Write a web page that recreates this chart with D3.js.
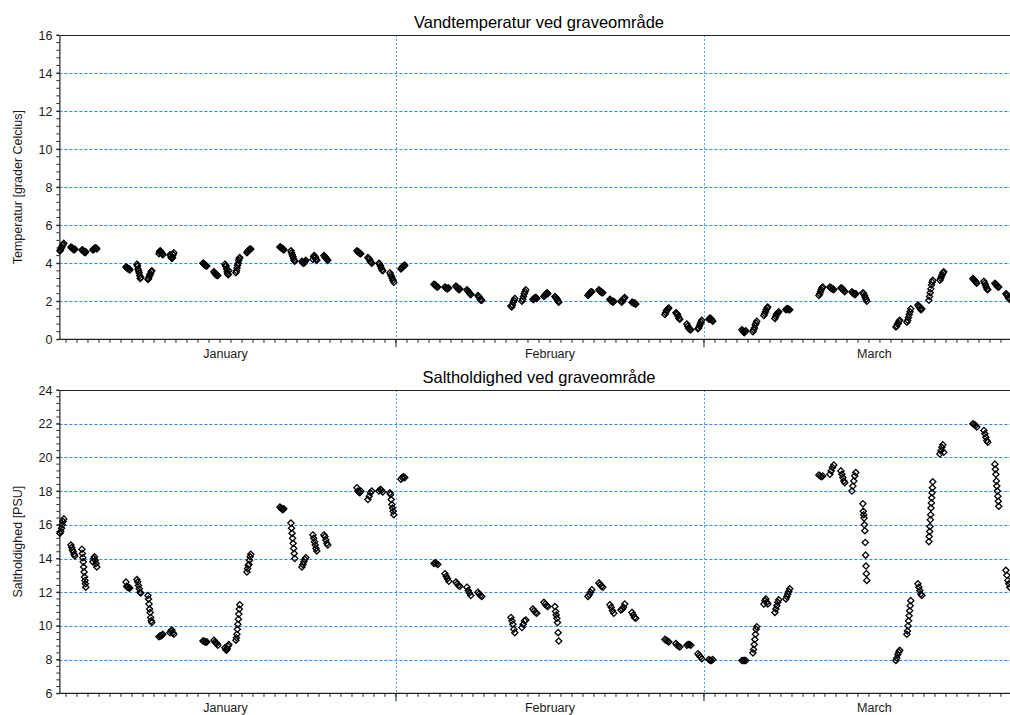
<!DOCTYPE html>
<html>
<head>
<meta charset="utf-8">
<script src="https://cdn.jsdelivr.net/npm/d3@7"></script>
<style>
  html, body { margin: 0; padding: 0; background: #fff; }
  svg { display: block; font-family: "Liberation Sans", Arial, sans-serif; }
</style>
</head>
<body>
<svg id="chart" width="1010" height="715"></svg>
<script>
// ---------- DATA ----------
const year = 2013;
// day offsets from 1 January on which measurements were made
const sampleDays = [0,1,2,3, 6,7,8,9,10, 13,14,15,16,17, 20,21,22,23,24, 27,28,29,30,31,
  34,35,36,37,38, 41,42,43,44,45, 48,49,50,51,52, 55,56,57,58,59,
  62,63,64,65,66, 69,70,71,72,73, 76,77,78,79,80, 83,84,85,86];
// daily sampling window (hours)
const sampleStartHour = 10.8;
const sampleEndHour = 19.2;

// water temperature readings per sampling day [°C]
const temperature = [
  [4.65,4.7,4.8,4.85,4.95,5.0,5.05],
  [4.85,4.8,4.8,4.75,4.75,4.7,4.75],
  [4.7,4.7,4.65,4.6,4.6,4.55,4.6],
  [4.7,4.75,4.75,4.8,4.8,4.8,4.75],
  [3.8,3.8,3.75,3.75,3.7,3.7,3.7,3.65],
  [3.95,3.85,3.7,3.6,3.5,3.35,3.2,3.25],
  [3.15,3.2,3.3,3.4,3.45,3.55,3.6],
  [4.5,4.6,4.65,4.6,4.55,4.5,4.45],
  [4.45,4.4,4.3,4.25,4.3,4.45,4.55],
  [4.0,4.0,3.95,3.9,3.9,3.85,3.85],
  [3.55,3.5,3.45,3.4,3.4,3.35,3.35],
  [3.95,3.85,3.85,3.7,3.55,3.45,3.4,3.6],
  [3.5,3.6,3.75,3.9,4.0,4.15,4.25,4.3],
  [4.55,4.6,4.65,4.7,4.7,4.75,4.75],
  [4.85,4.85,4.8,4.8,4.75,4.75,4.7],
  [4.65,4.55,4.45,4.35,4.25,4.15,4.1],
  [4.1,4.05,4.0,4.0,4.05,4.1,4.15],
  [4.2,4.35,4.4,4.35,4.3,4.2,4.15],
  [4.4,4.35,4.3,4.25,4.2,4.15],
  [4.65,4.6,4.6,4.55,4.5,4.5],
  [4.3,4.25,4.2,4.1,4.05,4.0],
  [4.0,3.95,3.85,3.75,3.65,3.6],
  [3.5,3.4,3.3,3.2,3.1,3.0],
  [3.7,3.75,3.8,3.85,3.85,3.9],
  [2.9,2.85,2.85,2.8,2.75,2.75],
  [2.75,2.7,2.7,2.65,2.7,2.7],
  [2.8,2.75,2.7,2.65,2.6,2.65],
  [2.6,2.55,2.5,2.45,2.4,2.35],
  [2.3,2.25,2.2,2.1,2.05,2.05],
  [1.75,1.7,1.8,1.95,2.05,2.15],
  [2.0,2.1,2.25,2.4,2.5,2.6],
  [2.1,2.1,2.15,2.2,2.2,2.15],
  [2.25,2.3,2.35,2.4,2.45,2.4],
  [2.25,2.2,2.15,2.1,2.0,1.95],
  [2.3,2.35,2.4,2.45,2.5,2.5],
  [2.6,2.55,2.5,2.5,2.45,2.45],
  [2.1,2.05,2.0,2.0,1.95,2.0],
  [2.0,1.95,2.0,2.1,2.15,2.2],
  [1.95,1.95,1.9,1.9,1.9,1.85],
  [1.3,1.4,1.5,1.55,1.6,1.65],
  [1.4,1.35,1.3,1.2,1.1,1.05],
  [0.8,0.7,0.6,0.55,0.5,0.5],
  [0.55,0.6,0.7,0.8,0.9,1.0],
  [1.05,1.1,1.1,1.05,1.0,0.95],
  [0.5,0.45,0.4,0.35,0.4,0.45],
  [0.4,0.5,0.6,0.75,0.85,0.95],
  [1.25,1.35,1.45,1.55,1.65,1.7],
  [1.1,1.2,1.3,1.35,1.4,1.45],
  [1.55,1.6,1.6,1.6,1.55,1.55],
  [2.3,2.4,2.5,2.6,2.7,2.75],
  [2.75,2.7,2.7,2.65,2.65,2.6],
  [2.7,2.7,2.65,2.6,2.55,2.5],
  [2.5,2.45,2.4,2.4,2.35,2.4],
  [2.45,2.4,2.3,2.2,2.1,2.0],
  [0.65,0.7,0.8,0.85,0.95,1.0],
  [0.9,1.0,1.15,1.3,1.45,1.6],
  [1.8,1.75,1.7,1.6,1.55,1.6],
  [2.05,2.25,2.45,2.65,2.85,3.0,3.1],
  [3.1,3.2,3.3,3.4,3.5,3.55],
  [3.2,3.15,3.1,3.05,3.0,2.95],
  [3.05,2.95,2.85,2.75,2.65,2.6],
  [2.95,2.9,2.85,2.8,2.75,2.75],
  [2.4,2.35,2.3,2.2,2.15,2.1]
];

// salinity readings per sampling day [PSU]
const salinity = [
  [15.5,15.6,15.8,16.0,16.2,16.35],
  [14.8,14.65,14.5,14.4,14.25,14.15],
  [14.55,14.3,14.05,13.8,13.5,13.2,12.9,12.7,12.5,12.3],
  [13.8,14.0,14.1,13.9,13.7,13.5],
  [12.6,12.35,12.3,12.3,12.25,12.25],
  [12.75,12.6,12.4,12.2,12.0,11.95],
  [11.8,11.6,11.3,11.0,10.8,10.5,10.3,10.2],
  [9.35,9.4,9.4,9.45,9.5],
  [9.6,9.7,9.75,9.6,9.5],
  [9.1,9.1,9.05,9.05,9.05],
  [9.15,9.05,9.0,8.95,8.85],
  [8.7,8.6,8.55,8.65,8.8,8.9],
  [9.15,9.3,9.5,9.8,10.1,10.4,10.7,11.0,11.25],
  [13.2,13.4,13.6,13.65,13.9,14.1,14.25],
  [17.05,17.0,16.95,16.9,16.95],
  [16.1,15.8,15.5,15.2,14.9,14.6,14.3,14.0],
  [13.5,13.65,13.8,13.95,14.05],
  [15.4,15.2,15.0,14.8,14.6,14.45],
  [15.4,15.3,15.1,14.9,14.8],
  [18.2,18.0,17.95,17.9,18.0],
  [17.5,17.7,17.9,18.0],
  [18.0,18.1,18.05,17.95],
  [17.9,17.8,17.5,17.2,17.0,16.8,16.6],
  [18.7,18.8,18.85,18.8],
  [13.7,13.75,13.7,13.65],
  [13.1,12.95,12.8,12.65],
  [12.6,12.5,12.4,12.35],
  [12.3,12.1,11.95,11.8],
  [12.0,11.9,11.8,11.75],
  [10.5,10.3,10.1,9.8,9.6],
  [9.9,10.1,10.3,10.35],
  [11.0,10.9,10.8,10.75],
  [11.4,11.3,11.2,11.15],
  [11.15,10.85,10.65,10.45,10.2,9.6,9.1],
  [11.75,11.85,12.0,12.15],
  [12.55,12.45,12.35,12.3],
  [11.25,11.1,10.9,10.75],
  [10.95,11.0,11.1,11.3],
  [10.8,10.65,10.5,10.45],
  [9.2,9.15,9.1,9.05],
  [8.95,8.85,8.8,8.75],
  [8.85,8.9,8.9,8.85],
  [8.35,8.25,8.15,8.05],
  [8.0,7.95,7.95,8.0],
  [7.95,7.95,7.95,7.95],
  [8.4,8.6,8.9,9.2,9.5,9.8,9.95],
  [11.3,11.5,11.6,11.4,11.3],
  [10.8,11.0,11.2,11.4,11.55],
  [11.6,11.75,11.9,12.05,12.2],
  [18.95,18.9,18.85,18.9],
  [19.0,19.2,19.4,19.55],
  [19.2,19.0,18.8,18.6,18.5],
  [18.0,18.3,18.6,18.9,19.1],
  [17.25,16.8,16.6,16.4,16.0,15.65,14.95,14.2,13.55,13.1,12.7],
  [7.95,8.1,8.3,8.45,8.55],
  [9.5,9.7,10.0,10.3,10.6,10.9,11.2,11.5],
  [12.5,12.3,12.1,11.9,11.8],
  [15.0,15.3,15.6,15.9,16.3,16.6,17.0,17.3,17.6,17.9,18.2,18.55],
  [20.2,20.4,20.6,20.75,20.3],
  [22.0,21.95,21.9,21.8],
  [21.6,21.4,21.2,21.0,20.9],
  [19.6,19.3,19.0,18.6,18.3,18.0,17.7,17.4,17.1],
  [13.3,13.0,12.7,12.5,12.3]
];

const monthLabels = ["January", "February", "March"];
const tempTicks = [0,2,4,6,8,10,12,14,16];
const salTicks = [6,8,10,12,14,16,18,20,22,24];
const titles = ["Vandtemperatur ved graveområde", "Saltholdighed ved graveområde"];
const yTitles = ["Temperatur [grader Celcius]", "Saltholdighed [PSU]"];

// ---------- HELPERS ----------
const dayMs = 86400000;
const base = Date.UTC(year, 0, 1);
const toDate = t => new Date(base + t * dayMs);

function points(values) {
  const pts = [];
  values.forEach((arr, k) => {
    const n = arr.length;
    arr.forEach((v, i) => {
      const h = sampleStartHour + (n > 1 ? i / (n - 1) : 0) * (sampleEndHour - sampleStartHour);
      pts.push({ date: toDate(sampleDays[k] + h / 24), value: v });
    });
  });
  return pts;
}

const svg = d3.select("#chart");
const left = 59.4, right = 1019;
const x = d3.scaleUtc()
  .domain([toDate(0.4), toDate(87.64)])
  .range([left, right]);

const gridColor = "#1f8cff";
const axisColor = "#222";
const textColor = "#1a1a1a";

function panel(opts) {
  const { top, bottom, yDomain, ticks, data, title, yTitle } = opts;
  const y = d3.scaleLinear().domain(yDomain).range([bottom, top]);
  const g = svg.append("g");

  // horizontal grid
  g.append("g").selectAll("line")
    .data(ticks.filter(t => t !== yDomain[0] && t !== yDomain[1]))
    .join("line")
    .attr("x1", left).attr("x2", 1010)
    .attr("y1", d => Math.round(y(d)) + 0.5).attr("y2", d => Math.round(y(d)) + 0.5)
    .attr("stroke", gridColor).attr("stroke-width", 1)
    .attr("stroke-dasharray", "3,2");

  // vertical month grid
  const monthStarts = d3.utcMonth.range(x.domain()[0], x.domain()[1]);
  g.append("g").selectAll("line")
    .data(monthStarts)
    .join("line")
    .attr("x1", d => Math.round(x(d)) + 0.5).attr("x2", d => Math.round(x(d)) + 0.5)
    .attr("y1", top).attr("y2", bottom)
    .attr("stroke", "#4aa3ff").attr("stroke-width", 1)
    .attr("stroke-dasharray", "2,2");

  // top border
  g.append("line")
    .attr("x1", left).attr("x2", 1010)
    .attr("y1", Math.round(top) + 0.5).attr("y2", Math.round(top) + 0.5)
    .attr("stroke", axisColor).attr("stroke-width", 1.2);

  // y axis
  const yAxis = d3.axisLeft(y).tickValues(ticks).tickSize(3).tickPadding(4).tickSizeOuter(0);
  const ya = g.append("g").attr("transform", `translate(${left},0)`).call(yAxis);
  const minor = d3.range(yDomain[0], yDomain[1] + 0.001, 0.4);
  ya.append("g").selectAll("line").data(minor).join("line")
    .attr("x1", -3).attr("x2", 0)
    .attr("y1", d => y(d)).attr("y2", d => y(d))
    .attr("stroke", axisColor);
  ya.select(".domain").attr("stroke", axisColor).attr("stroke-width", 1.2);
  ya.selectAll(".tick line").attr("stroke", axisColor);
  ya.selectAll(".tick text").attr("fill", textColor).style("font-size", "12.5px")
    .style("font-family", "'Liberation Sans', Arial, sans-serif");

  // x axis: daily minor ticks, month ticks, month labels
  const xa = g.append("g").attr("transform", `translate(0,${bottom})`);
  xa.append("line").attr("x1", left).attr("x2", 1010).attr("y1", 0).attr("y2", 0)
    .attr("stroke", axisColor).attr("stroke-width", 1.2);
  const days = d3.utcDay.range(x.domain()[0], x.domain()[1]);
  xa.selectAll("line.day").data(days).join("line").attr("class", "day")
    .attr("x1", d => x(d)).attr("x2", d => x(d))
    .attr("y1", 0).attr("y2", 3.5)
    .attr("stroke", axisColor);
  xa.selectAll("line.month").data(monthStarts).join("line").attr("class", "month")
    .attr("x1", d => x(d)).attr("x2", d => x(d))
    .attr("y1", 0).attr("y2", 8)
    .attr("stroke", axisColor);
  const months = [0, 1, 2].map(m => {
    const s = Date.UTC(year, m, 1), e = Date.UTC(year, m + 1, 1);
    return { name: monthLabels[m], mid: new Date((s + e) / 2) };
  });
  xa.selectAll("text").data(months).join("text")
    .attr("x", d => x(d.mid)).attr("y", 18.5)
    .attr("text-anchor", "middle")
    .attr("fill", textColor)
    .style("font-size", "12.5px")
    .text(d => d.name);

  // titles
  g.append("text")
    .attr("x", 539).attr("y", top - 7)
    .attr("text-anchor", "middle").attr("fill", "#000")
    .style("font-size", "16.5px")
    .text(title);
  g.append("text")
    .attr("transform", `translate(22,${(top + bottom) / 2}) rotate(-90)`)
    .attr("text-anchor", "middle").attr("fill", textColor)
    .style("font-size", "12.5px")
    .text(yTitle);

  // markers
  const r = 3.1;
  const diamond = `M0,${-r}L${r},0L0,${r}L${-r},0Z`;
  g.append("g").selectAll("path")
    .data(points(data))
    .join("path")
    .attr("d", diamond)
    .attr("transform", d => `translate(${x(d.date)},${y(d.value)})`)
    .attr("fill", "none")
    .attr("stroke", "#000")
    .attr("stroke-width", 1.3);
}

panel({ top: 35, bottom: 339.3, yDomain: [0, 16], ticks: tempTicks, data: temperature,
        title: titles[0], yTitle: yTitles[0] });
panel({ top: 390, bottom: 693.3, yDomain: [6, 24], ticks: salTicks, data: salinity,
        title: titles[1], yTitle: yTitles[1] });
</script>
</body>
</html>
